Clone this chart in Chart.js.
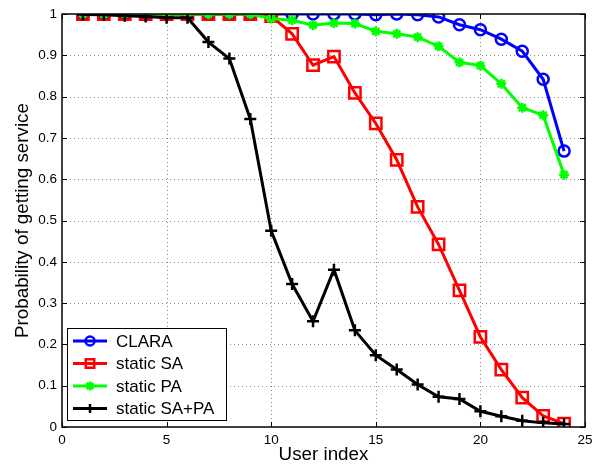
<!DOCTYPE html>
<html><head><meta charset="utf-8">
<script src="https://cdn.jsdelivr.net/npm/chart.js@4/dist/chart.umd.min.js"></script>
<style>html,body{margin:0;padding:0;background:#fff;}#wrap{width:607px;height:466px;}</style>
</head><body><div id="wrap"><canvas id="c" width="607" height="466"></canvas></div>
<script>
const users = [1,2,3,4,5,6,7,8,9,10,11,12,13,14,15,16,17,18,19,20,21,22,23,24];
const clara = [1,1,1,1,1,1,1,1,1,1,1,1,1,1,0.998,1,0.998,0.993,0.974,0.962,0.939,0.910,0.842,0.668];
const staticSA = [1,1,1,1,1,1,1,1,1,0.995,0.952,0.876,0.897,0.809,0.735,0.647,0.533,0.442,0.331,0.218,0.139,0.071,0.027,0.008];
const staticPA = [1,1,1,1,1,1,1,1,1,0.989,0.985,0.973,0.978,0.977,0.958,0.952,0.944,0.922,0.883,0.875,0.831,0.773,0.755,0.611];
const staticSAPA = [0.999,0.998,0.996,0.994,0.991,0.991,0.932,0.892,0.746,0.475,0.346,0.256,0.381,0.234,0.174,0.139,0.103,0.073,0.068,0.038,0.026,0.015,0.010,0.007];
const xTicks = [0,5,10,15,20,25];
const yTicks = [0,0.1,0.2,0.3,0.4,0.5,0.6,0.7,0.8,0.9,1];
const seriesNames = ['CLARA','static SA','static PA','static SA+PA'];

const FONT = '"Liberation Sans", Arial, Helvetica, sans-serif';
const pts = arr => users.map((u,i)=>({x:u,y:arr[i]}));
const mk = (label, data, color, style, radius, order) => ({
  label, data: pts(data), borderColor: color, backgroundColor: 'rgba(0,0,0,0)',
  pointBorderColor: color, pointBackgroundColor: 'rgba(0,0,0,0)',
  borderWidth: 3, pointBorderWidth: 2.5, pointRadius: radius, pointHoverRadius: radius,
  pointStyle: style, tension: 0, order
});

const grid = {
  id: 'dotgrid',
  beforeDatasetsDraw(chart) {
    const {ctx, chartArea: a, scales} = chart;
    ctx.save();
    ctx.strokeStyle = '#8c8c8c'; ctx.lineWidth = 1; ctx.setLineDash([1, 3]);
    xTicks.slice(1, -1).forEach(v => {
      const x = Math.round(scales.x.getPixelForValue(v)) + 0.5;
      ctx.beginPath(); ctx.moveTo(x, a.bottom); ctx.lineTo(x, a.top); ctx.stroke();
    });
    yTicks.slice(1, -1).forEach(v => {
      const y = Math.round(scales.y.getPixelForValue(v)) + 0.5;
      ctx.beginPath(); ctx.moveTo(a.left, y); ctx.lineTo(a.right, y); ctx.stroke();
    });
    ctx.restore();
  }
};

const frame = {
  id: 'frame',
  afterDraw(chart) {
    const {ctx, chartArea: a, scales} = chart;
    ctx.save();
    ctx.strokeStyle = '#000'; ctx.lineWidth = 1.5;
    ctx.strokeRect(a.left, a.top, a.right - a.left, a.bottom - a.top);
    ctx.lineWidth = 1;
    const L = 5;
    xTicks.forEach(v => {
      const x = Math.round(scales.x.getPixelForValue(v)) + 0.5;
      ctx.beginPath(); ctx.moveTo(x, a.bottom); ctx.lineTo(x, a.bottom - L);
      ctx.moveTo(x, a.top); ctx.lineTo(x, a.top + L); ctx.stroke();
    });
    yTicks.forEach(v => {
      const y = Math.round(scales.y.getPixelForValue(v)) + 0.5;
      ctx.beginPath(); ctx.moveTo(a.left, y); ctx.lineTo(a.left + L, y);
      ctx.moveTo(a.right, y); ctx.lineTo(a.right - L, y); ctx.stroke();
    });
    // legend
    const lx = a.left + 5.5, ly = 328.5, lw = 159, lh = 92;
    ctx.fillStyle = '#fff'; ctx.fillRect(lx, ly, lw, lh);
    ctx.strokeStyle = '#000'; ctx.lineWidth = 1; ctx.strokeRect(lx, ly, lw, lh);
    ctx.font = '17px ' + FONT; ctx.textBaseline = 'middle'; ctx.textAlign = 'left';
    chart.data.datasets.forEach((ds, i) => {
      const y = 341 + i * 22.5;
      ctx.strokeStyle = ds.borderColor; ctx.lineWidth = 3;
      ctx.beginPath(); ctx.moveTo(73, y); ctx.lineTo(107, y); ctx.stroke();
      ctx.lineWidth = 2.5; ctx.fillStyle = 'rgba(0,0,0,0)';
      Chart.helpers.drawPoint(ctx, {pointStyle: ds.pointStyle, radius: ds.pointStyle === 'rect' ? 6 : 4.5, rotation: 0, borderWidth: 2.5}, 90, y);
      ctx.fillStyle = '#000';
      ctx.fillText(ds.label, 116, y + 1);
    });
    ctx.restore();
  }
};

new Chart(document.getElementById('c'), {
  type: 'line',
  data: { datasets: [
    mk(seriesNames[0], clara, '#0000ff', 'circle', 5.5, 4),
    mk(seriesNames[1], staticSA, '#ff0000', 'rect', 8, 3),
    mk(seriesNames[2], staticPA, '#00ff00', 'star', 5, 2),
    mk(seriesNames[3], staticSAPA, '#000000', 'cross', 6, 1)
  ]},
  options: {
    responsive: false, animation: false, devicePixelRatio: 1,
    layout: { padding: { top: 14, right: 22, left: 0, bottom: 0 } },
    plugins: { legend: { display: false }, tooltip: { enabled: false } },
    scales: {
      x: {
        type: 'linear', min: 0, max: 25,
        afterBuildTicks: s => { s.ticks = xTicks.map(v => ({value: v})); },
        afterFit: s => { s.height = 39; },
        ticks: { font: { family: FONT, size: 13.5 }, color: '#000', padding: 5, maxRotation: 0 },
        grid: { display: false, drawTicks: false },
        border: { display: false },
        title: { display: true, text: 'User index', font: { family: FONT, size: 18.8 }, color: '#000', padding: { top: 0, bottom: 0 } }
      },
      y: {
        type: 'linear', min: 0, max: 1,
        afterBuildTicks: s => { s.ticks = yTicks.map(v => ({value: v})); },
        afterFit: s => { s.width = 62; },
        ticks: { font: { family: FONT, size: 13.5 }, color: '#000', padding: 5, callback: v => String(Math.round(v * 10) / 10) },
        grid: { display: false, drawTicks: false },
        border: { display: false },
        title: { display: true, text: 'Probability of getting service', font: { family: FONT, size: 18.8 }, color: '#000', padding: { top: 12, bottom: 0 } }
      }
    }
  },
  plugins: [grid, frame]
});
</script></body></html>
